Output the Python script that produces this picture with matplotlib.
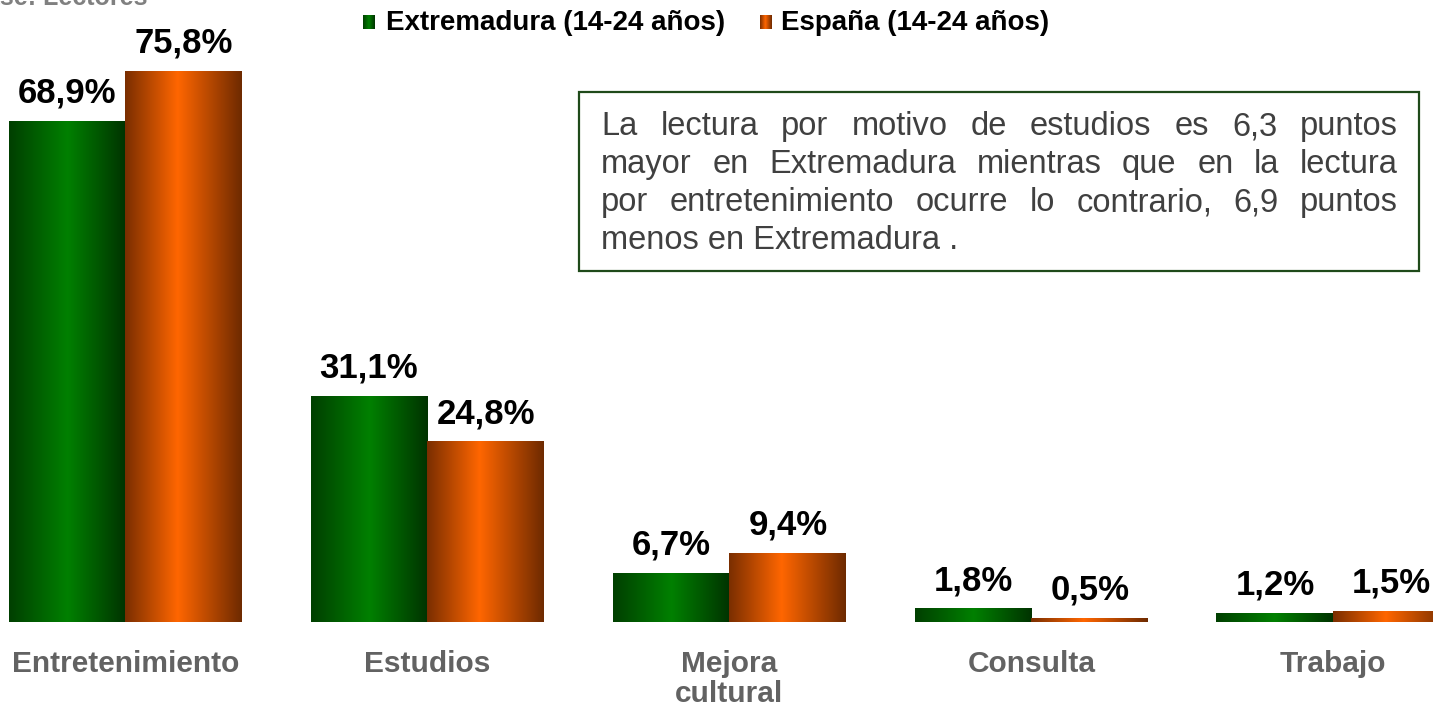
import numpy as np
import matplotlib
matplotlib.use("Agg")
import matplotlib.pyplot as plt
from matplotlib.colors import LinearSegmentedColormap
from matplotlib.patches import Rectangle

# ---- data -------------------------------------------------------------
categories = ["Entretenimiento", "Estudios", "Mejora\ncultural", "Consulta", "Trabajo"]
extremadura = [68.9, 31.1, 6.7, 1.8, 1.2]
espana = [75.8, 24.8, 9.4, 0.5, 1.5]
series_names = ["Extremadura (14-24 años)", "España (14-24 años)"]
base_text = "Base: Lectores"
note_lines = [
    "La lectura por motivo de estudios es 6,3 puntos",
    "mayor en Extremadura mientras que en la lectura",
    "por entretenimiento ocurre lo contrario, 6,9 puntos",
    "menos en Extremadura .",
]

# ---- style ------------------------------------------------------------
W, H, DPI = 1433, 709, 100
FONT = "Liberation Sans"
green_cmap = LinearSegmentedColormap.from_list(
    "green_bar", [(0.0, "#003f00"), (0.5, "#008000"), (1.0, "#003300")])
orange_cmap = LinearSegmentedColormap.from_list(
    "orange_bar", [(0.0, "#7a2e00"), (0.45, "#ff6600"), (1.0, "#6e2a00")])
ramp = np.linspace(0, 1, 256).reshape(1, -1)

fig = plt.figure(figsize=(W / DPI, H / DPI), dpi=DPI)
fig.patch.set_facecolor("white")


def fx(px):
    return px / W


def fy(py):
    return 1 - py / H


# Axes fill the whole width; the baseline sits 87 px above the bottom edge
ax = fig.add_axes([0, fy(622), 1, fy(0) - fy(622)])
ax.set_xlim(-0.4155, 4.33)
ax.set_ylim(0, 85.6)
ax.axis("off")

bar_w = 0.387
x = np.arange(len(categories))


def gradient_bar(xc, h, cmap):
    ax.imshow(ramp, cmap=cmap, aspect="auto", interpolation="bilinear",
              extent=[xc - bar_w / 2, xc + bar_w / 2, 0, h], zorder=2)


for i in range(len(categories)):
    gradient_bar(x[i] - bar_w / 2, extremadura[i], green_cmap)
    gradient_bar(x[i] + bar_w / 2, espana[i], orange_cmap)
    for xc, v in ((x[i] - bar_w / 2, extremadura[i]), (x[i] + bar_w / 2, espana[i])):
        ax.annotate(f"{v:.1f}%".replace(".", ","), (xc, v), xytext=(0, 13.5),
                    textcoords="offset points", ha="center", va="baseline",
                    fontsize=25, fontweight="bold", family=FONT, color="black",
                    annotation_clip=False)

# category labels below the bars
for i, cat in enumerate(categories):
    ax.annotate(cat, (x[i], 0), xytext=(0, -20), textcoords="offset points",
                ha="center", va="top", fontsize=21.5, fontweight="bold",
                family=FONT, color="#626262", linespacing=1.12,
                annotation_clip=False)

renderer = fig.canvas.get_renderer()

# base note in the top-left corner, partly outside the canvas
probe = fig.text(0, 0, "Ba", fontsize=18, fontweight="bold", family=FONT)
ba_w = probe.get_window_extent(renderer).width
probe.remove()
fig.text(fx(-ba_w), fy(5), base_text, fontsize=18, fontweight="bold",
         family=FONT, color="#808080", ha="left", va="baseline")

# legend: gradient swatches + labels
legend_items = [(363, 386, green_cmap, series_names[0]),
                (760, 781, orange_cmap, series_names[1])]
for sx, tx, cmap, label in legend_items:
    sw = fig.add_axes([fx(sx), fy(29), fx(12), fy(15) - fy(29)])
    sw.imshow(ramp, cmap=cmap, aspect="auto", interpolation="bilinear")
    sw.axis("off")
    fig.text(fx(tx), fy(30), label, fontsize=20, fontweight="bold",
             family=FONT, color="black", ha="left", va="baseline")

# annotation box with justified text
box = Rectangle((fx(579), fy(271)), fx(840), fy(92) - fy(271),
                transform=fig.transFigure, facecolor="white",
                edgecolor="#1f4a1a", linewidth=1.6, zorder=5)
fig.add_artist(box)

left, right = 601, 1398
note_kw = dict(fontsize=23.5, family=FONT, color="#404040", va="baseline",
               ha="left", zorder=6)
for li, line in enumerate(note_lines):
    base_y = 135 + 38 * li
    words = line.split(" ")
    if li == len(note_lines) - 1:
        fig.text(fx(left), fy(base_y), line, **note_kw)
        continue
    texts = [fig.text(0, fy(base_y), w, **note_kw) for w in words]
    widths = [t.get_window_extent(renderer).width for t in texts]
    gap = (right - left - sum(widths)) / (len(words) - 1)
    cur = left
    for t, wdt in zip(texts, widths):
        t.set_x(fx(cur))
        cur += wdt + gap

fig.savefig("out.png", dpi=DPI, facecolor="white")
